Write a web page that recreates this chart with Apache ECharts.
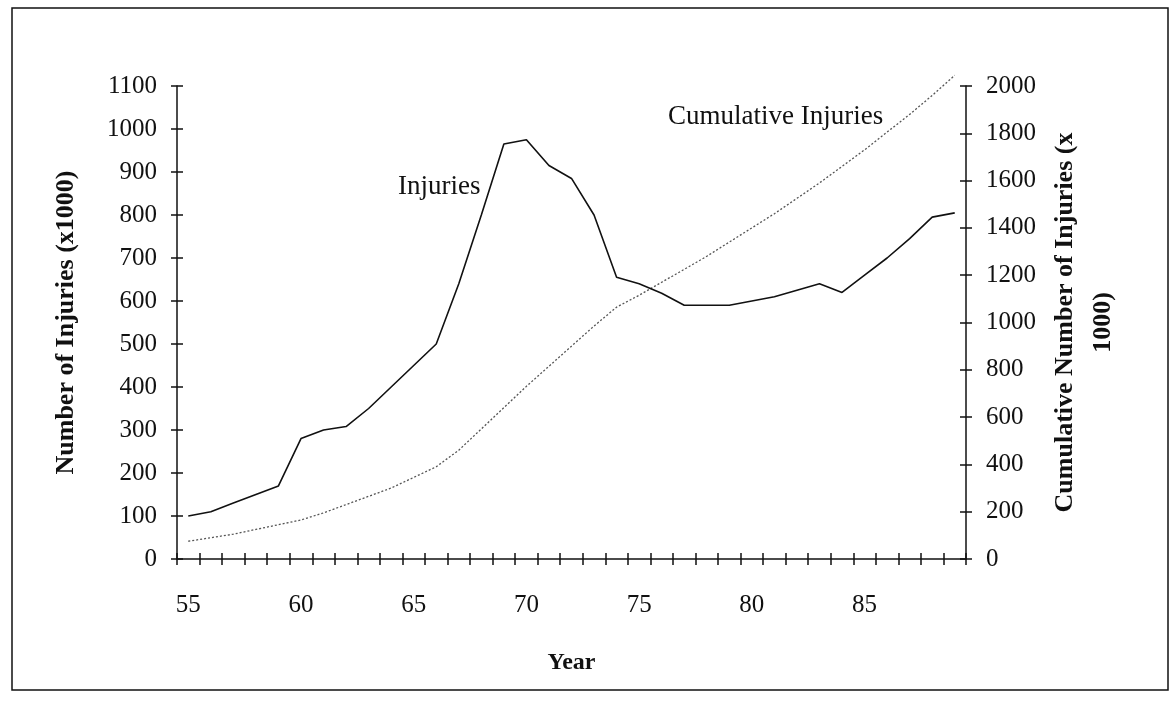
<!DOCTYPE html>
<html>
<head>
<meta charset="utf-8">
<title>Injuries</title>
<script src="https://cdn.jsdelivr.net/npm/echarts@6.0.0/dist/echarts.min.js"></script>
<style>
  html, body { margin: 0; padding: 0; background: #fff; }
  #chart { width: 1175px; height: 715px; }
</style>
</head>
<body>
<div id="chart"></div>
<script>
// data
const years = ['55', '56', '57', '58', '59', '60', '61', '62', '63', '64', '65', '66', '67', '68', '69', '70', '71',
  '72', '73', '74', '75', '76', '77', '78', '79', '80', '81', '82', '83', '84', '85', '86', '87', '88', '89'];
const injuries = [100, 110, 130, 150, 170, 280, 300, 308, 350, 400, 450, 500, 640, 800, 965, 975, 915,
  885, 800, 655, 640, 618, 590, 590, 590, 600, 610, 625, 640, 620, 660, 700, 745, 795, 805];
const cumulative = [75, 90, 105, 125, 145, 165, 195, 230, 265, 300, 345, 390, 460, 550, 640, 730, 815,
  900, 985, 1065, 1115, 1170, 1225, 1280, 1340, 1400, 1460, 1525, 1590, 1660, 1730, 1805, 1880, 1960, 2045];

const FONT = 'Liberation Serif';
const INK = '#111';

const chart = echarts.init(document.getElementById('chart'), null, { renderer: 'canvas' });

// tick marks in the original cross the axis line, so each axis gets a twin with inside ticks
const tickOut = { show: true, inside: false, length: 6, lineStyle: { color: INK, width: 1.5 } };
const tickIn = { show: true, inside: true, length: 6, lineStyle: { color: INK, width: 1.5 } };
const axisLine = { show: true, onZero: false, lineStyle: { color: INK, width: 1.5 } };
const plain = (v) => String(v); // no thousands separator

const option = {
  animation: false,
  backgroundColor: '#fff',
  grid: { left: 177, right: 209, top: 86, bottom: 156, containLabel: false },
  xAxis: [
    {
      type: 'category',
      data: years,
      position: 'bottom',
      boundaryGap: true,
      axisLine: axisLine,
      axisTick: Object.assign({ interval: 0 }, tickOut),
      axisLabel: { interval: 4, margin: 34, color: INK, fontFamily: FONT, fontSize: 25 },
      name: 'Year',
      nameLocation: 'middle',
      nameGap: 92,
      nameTextStyle: { color: INK, fontFamily: FONT, fontSize: 24, fontWeight: 'bold' },
      splitLine: { show: false }
    },
    {
      type: 'category',
      data: years,
      position: 'bottom',
      boundaryGap: true,
      axisLine: { show: false },
      axisTick: Object.assign({ interval: 0 }, tickIn),
      axisLabel: { show: false },
      splitLine: { show: false }
    }
  ],
  yAxis: [
    {
      type: 'value',
      position: 'left',
      min: 0, max: 1100, interval: 100,
      axisLine: axisLine,
      axisTick: tickOut,
      axisLabel: { margin: 20, color: INK, fontFamily: FONT, fontSize: 25, formatter: plain },
      splitLine: { show: false },
      name: 'Number of Injuries (x1000)',
      nameLocation: 'middle',
      nameRotate: 90,
      nameGap: 98,
      nameMoveOverlap: false,
      nameTextStyle: { color: INK, fontFamily: FONT, fontSize: 26, fontWeight: 'bold' }
    },
    {
      type: 'value',
      position: 'right',
      min: 0, max: 2000, interval: 200,
      axisLine: axisLine,
      axisTick: tickOut,
      axisLabel: { margin: 20, color: INK, fontFamily: FONT, fontSize: 25, formatter: plain },
      splitLine: { show: false },
      name: 'Cumulative Number of Injuries (x\n1000)',
      nameLocation: 'middle',
      nameRotate: 90,
      nameGap: 80,
      nameMoveOverlap: false,
      nameTextStyle: { color: INK, fontFamily: FONT, fontSize: 26, fontWeight: 'bold', lineHeight: 38, align: 'center' }
    },
    {
      type: 'value',
      position: 'left',
      min: 0, max: 1100, interval: 100,
      axisLine: { show: false },
      axisTick: tickIn,
      axisLabel: { show: false },
      splitLine: { show: false }
    },
    {
      type: 'value',
      position: 'right',
      min: 0, max: 2000, interval: 200,
      axisLine: { show: false },
      axisTick: tickIn,
      axisLabel: { show: false },
      splitLine: { show: false }
    }
  ],
  series: [
    {
      name: 'Injuries',
      type: 'line',
      data: injuries,
      xAxisIndex: 0,
      yAxisIndex: 0,
      showSymbol: false,
      lineStyle: { color: INK, width: 1.6 },
      z: 3
    },
    {
      name: 'Cumulative Injuries',
      type: 'line',
      data: cumulative,
      xAxisIndex: 0,
      yAxisIndex: 1,
      showSymbol: false,
      clip: false,
      lineStyle: { color: '#555', width: 1.3, type: [2, 2] },
      z: 2
    }
  ],
  graphic: [
    // frame round the whole figure
    {
      type: 'rect',
      shape: { x: 12, y: 8, width: 1156, height: 682 },
      style: { fill: 'none', stroke: INK, lineWidth: 1.5 },
      silent: true
    },
    // in-plot labels for the two lines
    {
      type: 'text',
      x: 398, y: 187,
      style: { text: 'Injuries', fill: INK, font: '27px "Liberation Serif"', textVerticalAlign: 'middle' }
    },
    {
      type: 'text',
      x: 668, y: 117,
      style: { text: 'Cumulative Injuries', fill: INK, font: '27px "Liberation Serif"', textVerticalAlign: 'middle' }
    }
  ]
};

chart.setOption(option);
</script>
</body>
</html>
